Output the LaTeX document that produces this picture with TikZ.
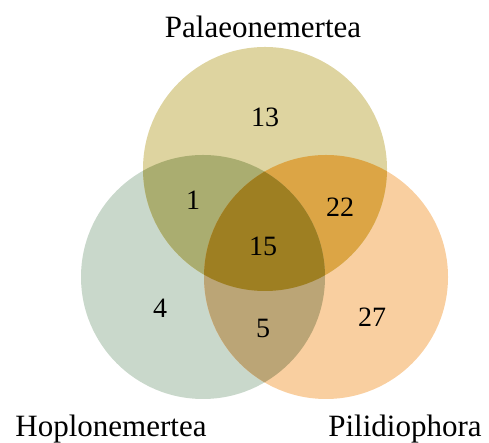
\documentclass[tikz,border=0pt]{standalone}
\usepackage{fontspec}
\setmainfont{Liberation Serif}
\usepackage{xcolor}
\usepackage{tikz}
\usetikzlibrary{positioning}

\definecolor{palaeo}{HTML}{DED4A0}
\definecolor{hoplo}{HTML}{C9D8CB}
\definecolor{pilid}{HTML}{F9CFA0}
\definecolor{palhop}{HTML}{AAAD70}
\definecolor{palpil}{HTML}{DCA545}
\definecolor{hoppil}{HTML}{BBA576}
\definecolor{allthree}{HTML}{9E7F22}
\newcommand{\rad}{122pt}

\begin{document}
\begin{tikzpicture}[x=1pt, y=1pt, count/.style={font=\fontsize{28}{30}\selectfont}, setname/.style={font=\fontsize{31}{33}\selectfont}]
    \useasboundingbox (0,0) rectangle (489,443);
    \coordinate (P) at (265,274);
    \coordinate (H) at (203,166);
    \coordinate (L) at (326,166);
    % single sets
    \fill[hoplo] (H) circle (\rad);
    \fill[pilid] (L) circle (\rad);
    \fill[palaeo] (P) circle (\rad);
    % pairwise overlaps
    \begin{scope}
        \clip (P) circle (\rad);
        \fill[palhop] (H) circle (\rad);
        \fill[palpil] (L) circle (\rad);
    \end{scope}
    \begin{scope}
        \clip (H) circle (\rad);
        \fill[hoppil] (L) circle (\rad);
        \clip (L) circle (\rad);
        \fill[allthree] (P) circle (\rad);
    \end{scope}
    % counts
    \node[count] (n13) at (265,326) {13};
    \node[count] (n1) at (193,243) {1};
    \node[count] (n22) at (340,236) {22};
    \node[count] (n15) at (263,197) {15};
    \node[count] (n4) at (160,135) {4};
    \node[count] (n5) at (263,115) {5};
    \node[count] (n27) at (372,126) {27};
    % set names
    \node[setname] (palaeoname) at (263,416) {Palaeonemertea};
    \node[setname] (hoploname) at (111,14) {Hoplonemertea};
    \node[setname] (pilidname) at (405,14) {Pilidiophora};
\end{tikzpicture}
\end{document}
